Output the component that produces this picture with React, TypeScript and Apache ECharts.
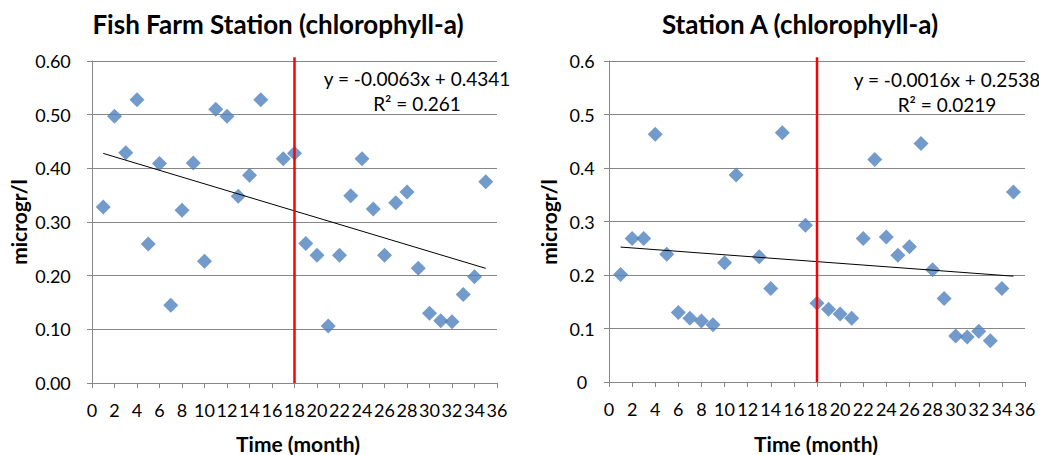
import React, { useEffect, useRef } from "react";
import * as echarts from "echarts";

const fishMonths = [1, 2, 3, 4, 5, 6, 7, 8, 9, 10, 11, 12, 13, 14, 15, 17, 18, 19, 20, 21, 22, 23, 24, 25, 26, 27, 28, 29, 30, 31, 32, 33, 34, 35];
const fishValues = [0.328, 0.497, 0.429, 0.528, 0.259, 0.409, 0.145, 0.322, 0.41, 0.227, 0.51, 0.497, 0.348, 0.387, 0.528, 0.418, 0.428, 0.26, 0.238, 0.106, 0.238, 0.349, 0.418, 0.324, 0.238, 0.336, 0.356, 0.214, 0.13, 0.116, 0.114, 0.165, 0.198, 0.375];

const stationMonths = [1, 2, 3, 4, 5, 6, 7, 8, 9, 10, 11, 13, 14, 15, 17, 18, 19, 20, 21, 22, 23, 24, 25, 26, 27, 28, 29, 30, 31, 32, 33, 34, 35];
const stationValues = [0.201, 0.268, 0.268, 0.463, 0.239, 0.13, 0.119, 0.114, 0.107, 0.223, 0.387, 0.234, 0.175, 0.466, 0.293, 0.147, 0.136, 0.127, 0.119, 0.268, 0.416, 0.271, 0.237, 0.253, 0.446, 0.21, 0.156, 0.086, 0.084, 0.095, 0.077, 0.175, 0.355];

const fishTrend = { slope: -0.0063, intercept: 0.4341, r2: "0.261" };
const stationTrend = { slope: -0.0016, intercept: 0.2538, r2: "0.0219" };
const trendRange = [1, 35];
const dividerMonth = 18;

const titles = ["Fish Farm Station (chlorophyll-a)", "Station A (chlorophyll-a)"];
const xAxisName = "Time (month)";
const yAxisName = "microgr/l";

const FONT = "Lato, 'Open Sans', sans-serif";
const GRAY = "#868686";
const BLUE = "#4F81BD";

function trendPoints(t: { slope: number; intercept: number }) {
  return trendRange.map((x) => [x, t.intercept + t.slope * x]);
}

function fmtSigned(v: number) {
  return (v < 0 ? "- " : "+ ") + Math.abs(v).toFixed(4);
}

export default function App() {
  const ref = useRef<HTMLDivElement>(null);
  useEffect(() => {
    if (!ref.current) return;
    const chart = echarts.init(ref.current, null, { renderer: "svg" });
    const grids = [
      { left: 92, top: 61, width: 405, height: 322 },
      { left: 609, top: 61, width: 416, height: 321 },
    ];
    const mkX = (i: number) => ({
      type: "value",
      gridIndex: i,
      min: 0,
      max: 36,
      interval: 2,
      axisLine: { show: true, lineStyle: { color: GRAY, width: 1 } },
      axisTick: { show: true, length: 5, lineStyle: { color: GRAY } },
      axisLabel: { fontSize: 18, fontFamily: FONT, color: "#000", margin: 18 },
      splitLine: { show: false },
    });
    const mkY = (i: number, decimals: boolean) => ({
      type: "value",
      gridIndex: i,
      min: 0,
      max: 0.6,
      interval: 0.1,
      axisLine: { show: true, lineStyle: { color: GRAY, width: 1 } },
      axisTick: { show: true, length: 5, lineStyle: { color: GRAY } },
      axisLabel: {
        fontSize: 18,
        fontFamily: FONT,
        color: "#000",
        align: "center",
        margin: decimals ? 39 : 27,
        formatter: (v: number) => (decimals ? v.toFixed(2) : String(Math.round(v * 10) / 10)),
      },
      splitLine: { show: true, lineStyle: { color: GRAY, width: 1 } },
    });
    const mkSeries = (i: number, months: number[], values: number[], t: { slope: number; intercept: number }) => [
      {
        type: "scatter",
        xAxisIndex: i,
        yAxisIndex: i,
        symbol: "diamond",
        symbolSize: 15,
        itemStyle: { color: BLUE },
        data: months.map((m, k) => [m, values[k]]),
        z: 3,
      },
      {
        type: "line",
        xAxisIndex: i,
        yAxisIndex: i,
        showSymbol: false,
        symbol: "none",
        lineStyle: { color: "#000", width: 1 },
        data: trendPoints(t),
        z: 4,
      },
      {
        type: "line",
        xAxisIndex: i,
        yAxisIndex: i,
        showSymbol: false,
        symbol: "none",
        clip: false,
        lineStyle: { color: "#FF0000", width: 2.5 },
        data: [
          [dividerMonth, 0],
          [dividerMonth, 0.607],
        ],
        z: 5,
      },
    ];
    const eqText = (t: { slope: number; intercept: number; r2: string }, cx: number, y1: number) => [
      {
        type: "text",
        x: cx,
        y: y1,
        style: {
          text: `y = ${t.slope < 0 ? "-" : ""}${Math.abs(t.slope).toFixed(4)}x ${fmtSigned(t.intercept)}`,
          font: `19px ${FONT}`,
          fill: "#000",
          align: "center",
          verticalAlign: "middle",
        },
        z: 10,
      },
      {
        type: "text",
        x: cx,
        y: y1 + 25,
        style: {
          text: `R² = ${t.r2}`,
          font: `19px ${FONT}`,
          fill: "#000",
          align: "center",
          verticalAlign: "middle",
        },
        z: 10,
      },
    ];
    const axisTitles = [
      { x: 18, y: 222, rot: Math.PI / 2, text: yAxisName },
      { x: 548, y: 222, rot: Math.PI / 2, text: yAxisName },
      { x: 298, y: 443, rot: 0, text: xAxisName },
      { x: 816, y: 443, rot: 0, text: xAxisName },
    ].map((a) => ({
      type: "text",
      x: a.x,
      y: a.y,
      rotation: a.rot,
      style: {
        text: a.text,
        font: `bold 21px ${FONT}`,
        fill: "#000",
        align: "center",
        verticalAlign: "middle",
      },
    }));
    chart.setOption({
      animation: false,
      backgroundColor: "#fff",
      title: [
        { text: titles[0], left: 278, top: 11, textAlign: "center", padding: 0, textStyle: { fontSize: 26, fontWeight: "bold", fontFamily: FONT, color: "#000" } },
        { text: titles[1], left: 800, top: 11, textAlign: "center", padding: 0, textStyle: { fontSize: 26, fontWeight: "bold", fontFamily: FONT, color: "#000" } },
      ],
      grid: grids,
      xAxis: [mkX(0), mkX(1)],
      yAxis: [mkY(0, true), mkY(1, false)],
      series: [
        ...mkSeries(0, fishMonths, fishValues, fishTrend),
        ...mkSeries(1, stationMonths, stationValues, stationTrend),
      ],
      graphic: [...eqText(fishTrend, 417, 78), ...eqText(stationTrend, 947, 79), ...axisTitles],
    });
    return () => chart.dispose();
  }, []);
  return (
    <div
      ref={ref}
      style={{ position: "absolute", left: 0, top: 0, width: 1039, height: 455, background: "#fff" }}
    />
  );
}
